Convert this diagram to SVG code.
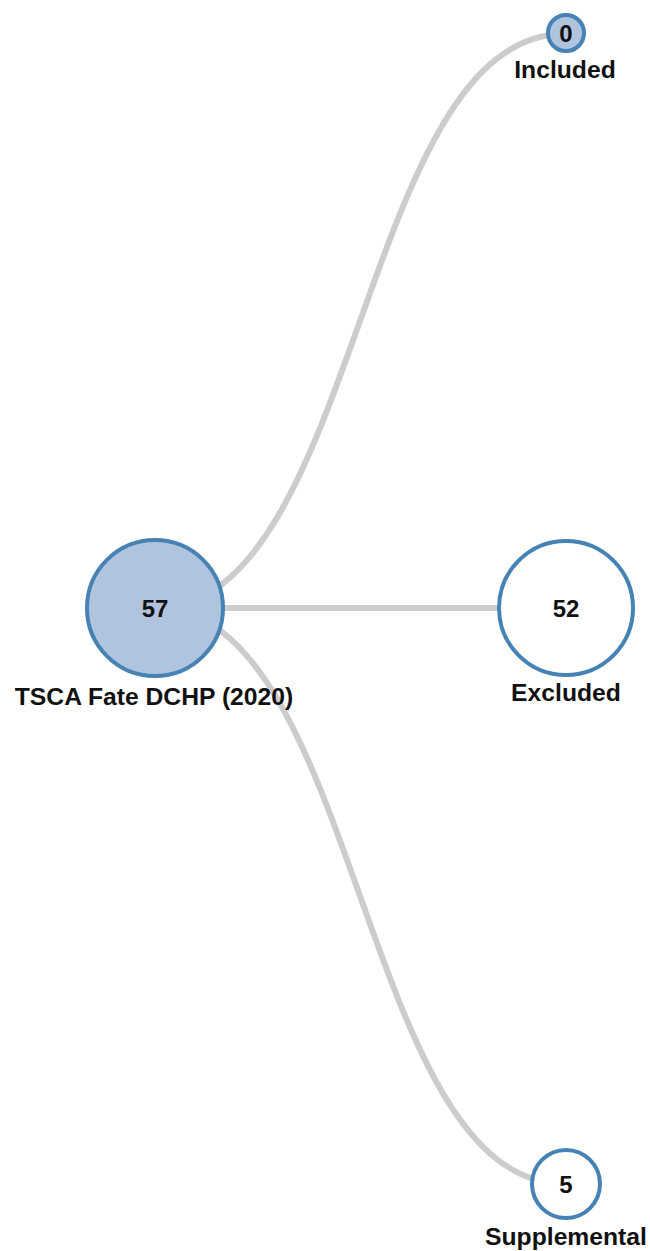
<svg xmlns="http://www.w3.org/2000/svg" width="650" height="1251" viewBox="0 0 650 1251">
  <style>
    .link { fill: none; stroke: #cccccc; stroke-width: 6; }
    .node circle { stroke: #4682b4; stroke-width: 4; }
    .node.parent circle { fill: #b0c4de; }
    .node.leaf circle { fill: #ffffff; }
    .node.empty circle { fill: #b0c4de; }
    .count { font-family: "Liberation Sans", Arial, sans-serif; font-weight: bold; font-size: 24px; fill: #111; text-anchor: middle; }
    .label { font-family: "Liberation Sans", Arial, sans-serif; font-weight: bold; font-size: 24.7px; fill: #111; text-anchor: middle; }
  </style>
  <rect width="650" height="1251" fill="#ffffff"/>

  <!-- horizontal tree links from the source to each outcome -->
  <g id="links">
    <path class="link" d="M155,608 C360,608 360,34 565,34"/>
    <path class="link" d="M155,608 C360,608 360,608 565,608"/>
    <path class="link" d="M155,608 C360,608 360,1184 565,1184"/>
  </g>

  <g id="node-source" class="node parent">
    <circle cx="155" cy="608" r="68"/>
    <text class="count" x="155" y="617">57</text>
    <text class="label" x="154" y="705">TSCA Fate DCHP (2020)</text>
  </g>

  <g id="node-included" class="node empty">
    <circle cx="566" cy="33" r="18"/>
    <text class="count" x="566" y="42">0</text>
    <text class="label" x="565" y="78">Included</text>
  </g>

  <g id="node-excluded" class="node leaf">
    <circle cx="566" cy="608" r="67"/>
    <text class="count" x="566" y="617">52</text>
    <text class="label" x="566" y="701">Excluded</text>
  </g>

  <g id="node-supplemental" class="node leaf">
    <circle cx="566" cy="1184" r="34"/>
    <text class="count" x="566" y="1193">5</text>
    <text class="label" x="566" y="1245">Supplemental</text>
  </g>
</svg>
